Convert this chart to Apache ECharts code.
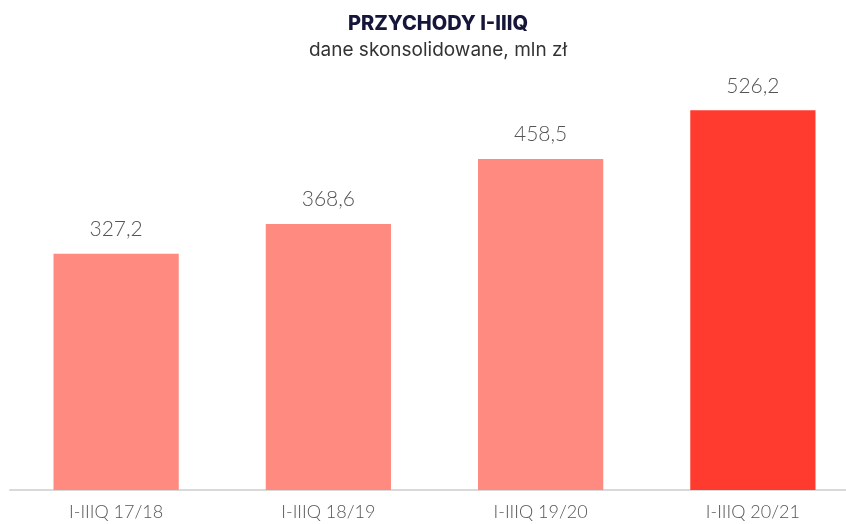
<!DOCTYPE html>
<html>
<head>
<meta charset="utf-8">
<script src="https://cdn.jsdelivr.net/npm/echarts@6/dist/echarts.min.js"></script>
<style>
  html, body { margin: 0; padding: 0; background: #fff; }
  #chart { width: 846px; height: 524px; }
</style>
</head>
<body>
<div id="chart"></div>
<script>
var categories = ['I-IIIQ 17/18', 'I-IIIQ 18/19', 'I-IIIQ 19/20', 'I-IIIQ 20/21'];
var revenue = [327.2, 368.6, 458.5, 526.2];
var barColors = ['#ff8a80', '#ff8a80', '#ff8a80', '#ff3a2f'];

var myChart = echarts.init(document.getElementById('chart'));
var option = {
  animation: false,
  title: {
    text: 'PRZYCHODY I-IIIQ',
    subtext: 'dane skonsolidowane, mln zł',
    left: 433,
    top: 9,
    textAlign: 'center',
    itemGap: 7,
    textStyle: {
      fontFamily: 'Inter',
      fontWeight: 800,
      fontSize: 20,
      color: '#16163a'
    },
    subtextStyle: {
      fontFamily: 'Inter',
      fontSize: 19,
      color: '#333'
    }
  },
  grid: {
    left: 10,
    width: 849,
    top: 57,
    bottom: 34,
    outerBoundsMode: 'none'
  },
  xAxis: {
    type: 'category',
    data: categories,
    axisTick: { show: false },
    axisLine: {
      lineStyle: { color: '#d9d9d9', width: 2 }
    },
    axisLabel: {
      fontFamily: 'Lato',
      fontWeight: 300,
      fontSize: 18,
      color: '#555',
      margin: 13
    }
  },
  yAxis: {
    type: 'value',
    min: 0,
    max: 600,
    show: false,
    splitLine: { show: false }
  },
  series: [
    {
      type: 'bar',
      barWidth: '59%',
      data: revenue.map(function (v, i) {
        return { value: v, itemStyle: { color: barColors[i] } };
      }),
      label: {
        show: true,
        position: 'top',
        distance: 14,
        fontFamily: 'Lato',
        fontWeight: 300,
        fontSize: 21,
        color: '#555',
        formatter: function (p) {
          return p.value.toFixed(1).replace('.', ',');
        }
      }
    }
  ]
};
myChart.setOption(option);
</script>
</body>
</html>
